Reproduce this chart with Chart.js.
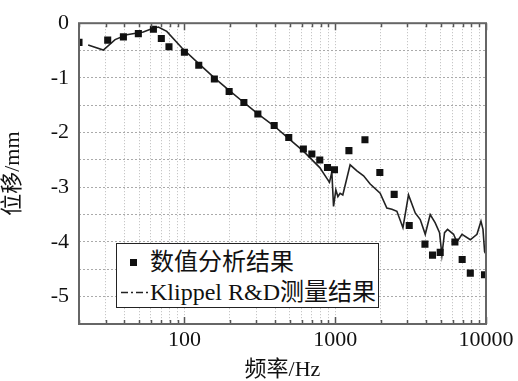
<!DOCTYPE html>
<html>
<head>
<meta charset="utf-8">
<script src="https://cdn.jsdelivr.net/npm/chart.js@4"></script>
<style>
  body { margin: 0; background: #fff; }
  #wrap { position: relative; width: 518px; height: 381px; }
  #legend {
    position: absolute; left: 116px; top: 243px; width: 261px; height: 63px;
    border: 1.5px solid #222; background: #fff;
    font-family: "Liberation Serif", "Noto Sans CJK SC", serif; font-size: 24px; color: #111;
  }
  .row { position: absolute; left: 0; height: 30px; line-height: 30px; white-space: nowrap; }
  .row span.t { position: absolute; left: 33px; }
  .sq { position: absolute; left: 13px; top: 12px; width: 7px; height: 7px; background: #111; }
  .dd { position: absolute; left: 4px; top: 14px; }
</style>
</head>
<body>
<div id="wrap">
  <canvas id="grafico" width="518" height="381"></canvas>
  <div id="legend">
    <div class="row" style="top:3px"><div class="sq"></div><span class="t">数值分析结果</span></div>
    <div class="row" style="top:33px">
      <svg class="dd" width="28" height="3"><line x1="0" y1="1.5" x2="28" y2="1.5" stroke="#222" stroke-width="1.3" stroke-dasharray="7,3,2,3"/></svg>
      <span class="t">Klippel R&amp;D测量结果</span>
    </div>
  </div>
</div>
<script>
// Dados: resultados da análise numérica (quadrados)
const numFreq = [20, 31, 39.4, 49.5, 62.3, 70.3, 79, 100, 124.5, 158, 198, 248, 307, 394, 492, 615, 700, 790, 889, 989, 1233, 1575, 1977, 2461, 3097, 3937, 4419, 4970, 6220, 6950, 7870, 9775];
const numDisp = [-0.35, -0.31, -0.25, -0.19, -0.11, -0.28, -0.43, -0.53, -0.77, -1.02, -1.25, -1.45, -1.66, -1.87, -2.09, -2.30, -2.39, -2.50, -2.64, -2.68, -2.33, -2.13, -2.73, -3.13, -3.70, -4.04, -4.24, -4.19, -4.00, -4.32, -4.57, -4.60];

// Dados: medição Klippel R&D (linha)
const klipFreq = [23, 29, 34.7, 41.5, 53.4, 60.7, 67.2, 76.4, 96, 124.5, 158, 198, 248, 272, 307, 394, 492, 615, 790, 916, 950, 975, 1010, 1042, 1078, 1123, 1256, 1393, 1542, 1706, 1986, 2200, 2376, 2565, 2813, 3063, 3394, 3664, 3955, 4266, 4605, 4920, 5100, 5310, 5560, 6094, 6410, 6930, 7870, 8710, 9260, 9550, 9790, 10000];
const klipDisp = [-0.40, -0.49, -0.30, -0.21, -0.16, -0.10, -0.07, -0.15, -0.45, -0.74, -1.00, -1.23, -1.45, -1.54, -1.66, -1.88, -2.11, -2.34, -2.64, -2.91, -2.72, -3.35, -3.05, -3.17, -3.11, -3.14, -2.59, -2.70, -2.79, -2.94, -3.11, -3.38, -3.40, -3.44, -3.74, -3.14, -3.47, -3.59, -3.86, -3.50, -3.65, -3.83, -4.24, -3.83, -3.77, -3.86, -4.00, -3.86, -3.96, -3.86, -3.62, -3.77, -4.18, -4.22];

const xMajorLabels = [100, 1000, 10000];
const yLabels = [0, -1, -2, -3, -4, -5];

// grade menor do eixo log (20, 30, ... 10000)
const xGridTicks = [];
for (let d = 10; d <= 1000; d *= 10) {
  for (let m = 1; m <= 9; m++) {
    const v = m * d;
    if (v >= 20 && v <= 10000) xGridTicks.push(v);
  }
}
xGridTicks.push(10000);

const fonteEixo = { family: '"Liberation Serif", "Noto Sans CJK SC", serif', size: 22 };

// moldura + marcas internas
const molduraPlugin = {
  id: 'moldura',
  afterDraw(chart) {
    const { ctx, chartArea: a, scales } = chart;
    ctx.save();
    ctx.strokeStyle = '#555';
    ctx.lineWidth = 1.5;
    ctx.beginPath();
    xGridTicks.forEach(v => {
      const px = Math.round(scales.x.getPixelForValue(v)) + 0.5;
      const len = xMajorLabels.includes(v) ? 7 : 4;
      ctx.moveTo(px, a.bottom); ctx.lineTo(px, a.bottom - len);
      ctx.moveTo(px, a.top); ctx.lineTo(px, a.top + len);
    });
    ctx.stroke();
    ctx.lineWidth = 2;
    ctx.strokeStyle = '#666';
    ctx.strokeRect(a.left, a.top, a.right - a.left, a.bottom - a.top);
    ctx.restore();
  }
};

const ctx = document.getElementById('grafico');
new Chart(ctx, {
  type: 'scatter',
  data: {
    datasets: [
      {
        label: '数值分析结果',
        data: numFreq.map((f, i) => ({ x: f, y: numDisp[i] })),
        pointStyle: 'rect',
        pointRadius: 5,
        backgroundColor: '#111',
        borderColor: '#111',
        borderWidth: 0,
        showLine: false
      },
      {
        label: 'Klippel R&D测量结果',
        data: klipFreq.map((f, i) => ({ x: f, y: klipDisp[i] })),
        showLine: true,
        pointRadius: 0,
        borderColor: '#222',
        borderWidth: 1.6,
        tension: 0
      }
    ]
  },
  options: {
    responsive: false,
    devicePixelRatio: 1,
    animation: false,
    layout: { padding: { top: 15, right: 32, left: 0, bottom: 0 } },
    plugins: { legend: { display: false }, tooltip: { enabled: false } },
    scales: {
      x: {
        type: 'logarithmic',
        min: 20,
        max: 10000,
        afterBuildTicks(scale) { scale.ticks = xGridTicks.map(v => ({ value: v })); },
        afterFit(scale) { scale.height = 57; },
        ticks: {
          autoSkip: false,
          maxRotation: 0,
          padding: 3,
          color: '#111',
          font: fonteEixo,
          callback: v => xMajorLabels.includes(v) ? String(v) : ''
        },
        grid: { color: '#bbb', lineWidth: 1, drawTicks: false },
        border: { display: false, dash: [1, 2] },
        title: { display: true, text: '频率/Hz', color: '#111', font: { ...fonteEixo, lineHeight: 1 }, padding: { top: 0, bottom: 0 } }
      },
      y: {
        min: -5.5,
        max: 0,
        afterBuildTicks(scale) {
          const t = [];
          for (let v = 0; v >= -5.5; v -= 0.5) t.push({ value: v });
          scale.ticks = t;
        },
        afterFit(scale) { scale.width = 79; },
        ticks: {
          autoSkip: false,
          padding: 10,
          color: '#111',
          font: fonteEixo,
          callback: v => yLabels.includes(v) ? String(v) : ''
        },
        grid: { color: '#aaa', lineWidth: 1, drawTicks: false },
        border: { display: false, dash: [2, 2] },
        title: { display: true, text: '位移/mm', color: '#111', font: fonteEixo, padding: { top: 0, bottom: 0 } }
      }
    }
  },
  plugins: [molduraPlugin]
});
</script>
</body>
</html>
